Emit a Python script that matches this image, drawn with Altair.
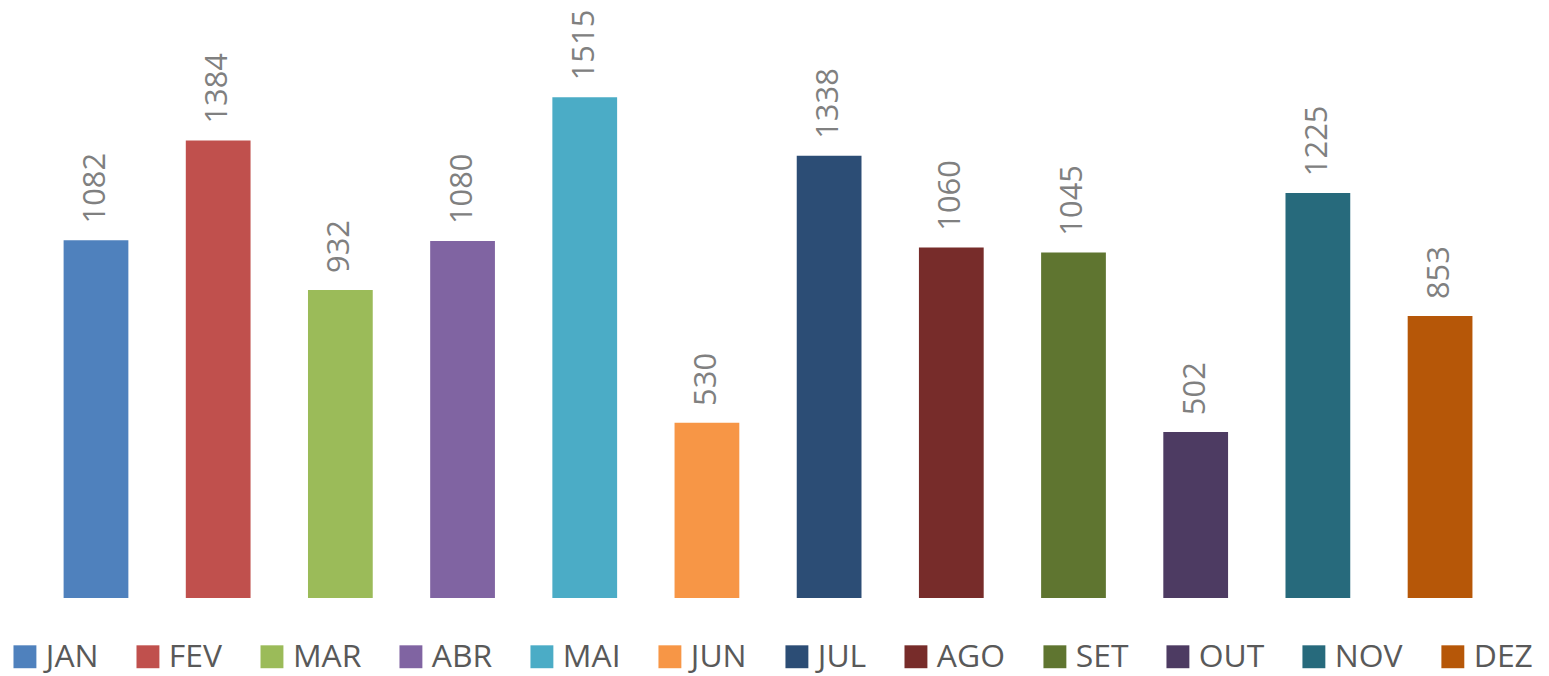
import altair as alt
import pandas as pd

months = ["JAN", "FEV", "MAR", "ABR", "MAI", "JUN", "JUL", "AGO", "SET", "OUT", "NOV", "DEZ"]
values = [1082, 1384, 932, 1080, 1515, 530, 1338, 1060, 1045, 502, 1225, 853]
colors = ["#4F81BD", "#C0504D", "#9BBB59", "#8064A2", "#4BACC6", "#F79646",
          "#2C4D75", "#772C2A", "#5F7530", "#4D3B62", "#276A7C", "#B65708"]

df = pd.DataFrame({"mes": months, "valor": values})

FONT = "Open Sans"

x = alt.X("mes:N", sort=months, axis=None,
          scale=alt.Scale(paddingInner=0.47, paddingOuter=0.235))
y = alt.Y("valor:Q", axis=None, scale=alt.Scale(domain=[0, 1781], nice=False, zero=True))

bars = alt.Chart(df).mark_bar().encode(
    x=x,
    y=y,
    color=alt.Color(
        "mes:N",
        sort=months,
        scale=alt.Scale(domain=months, range=colors),
        legend=alt.Legend(
            title=None,
            orient="none",
            direction="horizontal",
            legendX=-26,
            legendY=634,
            columns=12,
            symbolType="square",
            symbolSize=529,
            symbolStrokeWidth=0,
            symbolOpacity=1,
            labelFont=FONT,
            labelFontSize=32,
            labelColor="#595959",
            labelOffset=5,
            columnPadding=33.5,
            padding=0,
            symbolOffset=0,
            labelLimit=200,
        ),
    ),
)

labels = alt.Chart(df).mark_text(
    angle=270, align="left", baseline="middle", dx=17, dy=0,
    font=FONT, fontSize=31, color="#808080",
).encode(x=x, y=y, text=alt.Text("valor:Q"))

chart = (bars + labels).properties(
    width=1472, height=591,
    padding={"left": 27, "top": 0, "right": 40, "bottom": 77},
    autosize=alt.AutoSizeParams(type="none"),
    background="white",
).configure_view(stroke=None)

chart.save("out.html", embed_options={"renderer": "svg", "actions": False})
